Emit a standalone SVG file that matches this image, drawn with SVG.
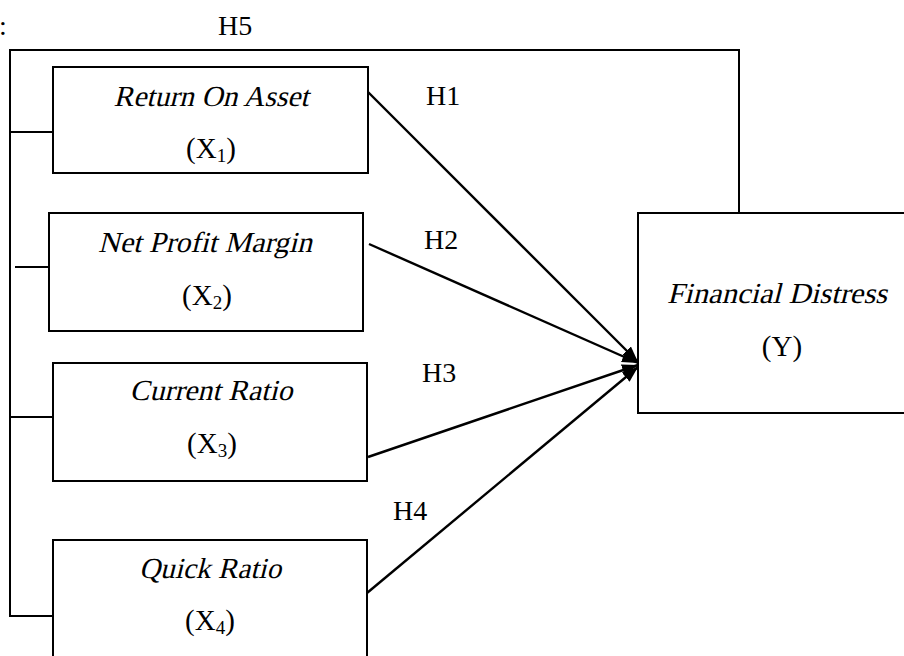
<svg xmlns="http://www.w3.org/2000/svg" width="904" height="656" viewBox="0 0 904 656">
<style>
.box{fill:#fff;stroke:#000;stroke-width:2}
.ln{fill:none;stroke:#000;stroke-width:2}
.ar{fill:none;stroke:#000;stroke-width:2.4;marker-end:url(#ah)}
.it{font-family:"Liberation Serif","Times New Roman",serif;font-size:29px;fill:#000;text-anchor:middle}
.rm{font-family:"Liberation Serif","Times New Roman",serif;font-size:29px;fill:#000;text-anchor:middle}
.lb{font-family:"Liberation Serif","Times New Roman",serif;font-size:28px;fill:#000}
.sb{font-size:19px}
</style>
<defs>
<marker id="ah" viewBox="0 0 16 12" refX="16" refY="6" markerWidth="16" markerHeight="12" markerUnits="userSpaceOnUse" orient="auto">
<path d="M0,0 L16,6 L0,12 Z" fill="#000"/>
</marker>
</defs>
<rect width="904" height="656" fill="#fff"/>
<text class="lb" x="-1" y="35">:</text>
<g id="connectors">
<polyline class="ln" points="739,213 739,50 10,50 10,616 53,616"/>
<line class="ln" x1="10" y1="132" x2="53" y2="132"/>
<line class="ln" x1="15" y1="267" x2="55" y2="267"/>
<line class="ln" x1="10" y1="417" x2="53" y2="417"/>
<line class="ar" x1="368" y1="92" x2="638" y2="362"/>
<line class="ar" x1="369" y1="244" x2="638" y2="363"/>
<line class="ar" x1="368" y1="457" x2="638" y2="365"/>
<line class="ar" x1="367" y1="593" x2="638" y2="367"/>
</g>
<g id="labels">
<text class="lb" x="218" y="35">H5</text>
<text class="lb" x="426" y="105">H1</text>
<text class="lb" x="424" y="249">H2</text>
<text class="lb" x="422" y="382">H3</text>
<text class="lb" x="393" y="520">H4</text>
</g>
<g id="x1">
<rect class="box" x="53" y="67" width="315" height="106"/>
<text class="it" transform="translate(211,106) skewX(-14)" textLength="195" lengthAdjust="spacingAndGlyphs">Return On Asset</text>
<text class="rm" x="211" y="158">(X<tspan class="sb" dy="4">1</tspan><tspan dy="-4">)</tspan></text>
</g>
<g id="x2">
<rect class="box" x="49" y="213" width="314" height="118"/>
<text class="it" transform="translate(205,252) skewX(-14)" textLength="214" lengthAdjust="spacingAndGlyphs">Net Profit Margin</text>
<text class="rm" x="207" y="305">(X<tspan class="sb" dy="4">2</tspan><tspan dy="-4">)</tspan></text>
</g>
<g id="x3">
<rect class="box" x="53" y="363" width="314" height="118"/>
<text class="it" transform="translate(211,400) skewX(-14)" textLength="163" lengthAdjust="spacingAndGlyphs">Current Ratio</text>
<text class="rm" x="212" y="453">(X<tspan class="sb" dy="4">3</tspan><tspan dy="-4">)</tspan></text>
</g>
<g id="x4">
<rect class="box" x="53" y="540" width="314" height="130"/>
<text class="it" transform="translate(210,578) skewX(-14)" textLength="142" lengthAdjust="spacingAndGlyphs">Quick Ratio</text>
<text class="rm" x="210" y="630">(X<tspan class="sb" dy="4">4</tspan><tspan dy="-4">)</tspan></text>
</g>
<g id="y">
<rect class="box" x="638" y="213" width="280" height="200"/>
<text class="it" transform="translate(777,303) skewX(-14)" textLength="220" lengthAdjust="spacingAndGlyphs">Financial Distress</text>
<text class="rm" x="782" y="356">(Y)</text>
</g>
</svg>
